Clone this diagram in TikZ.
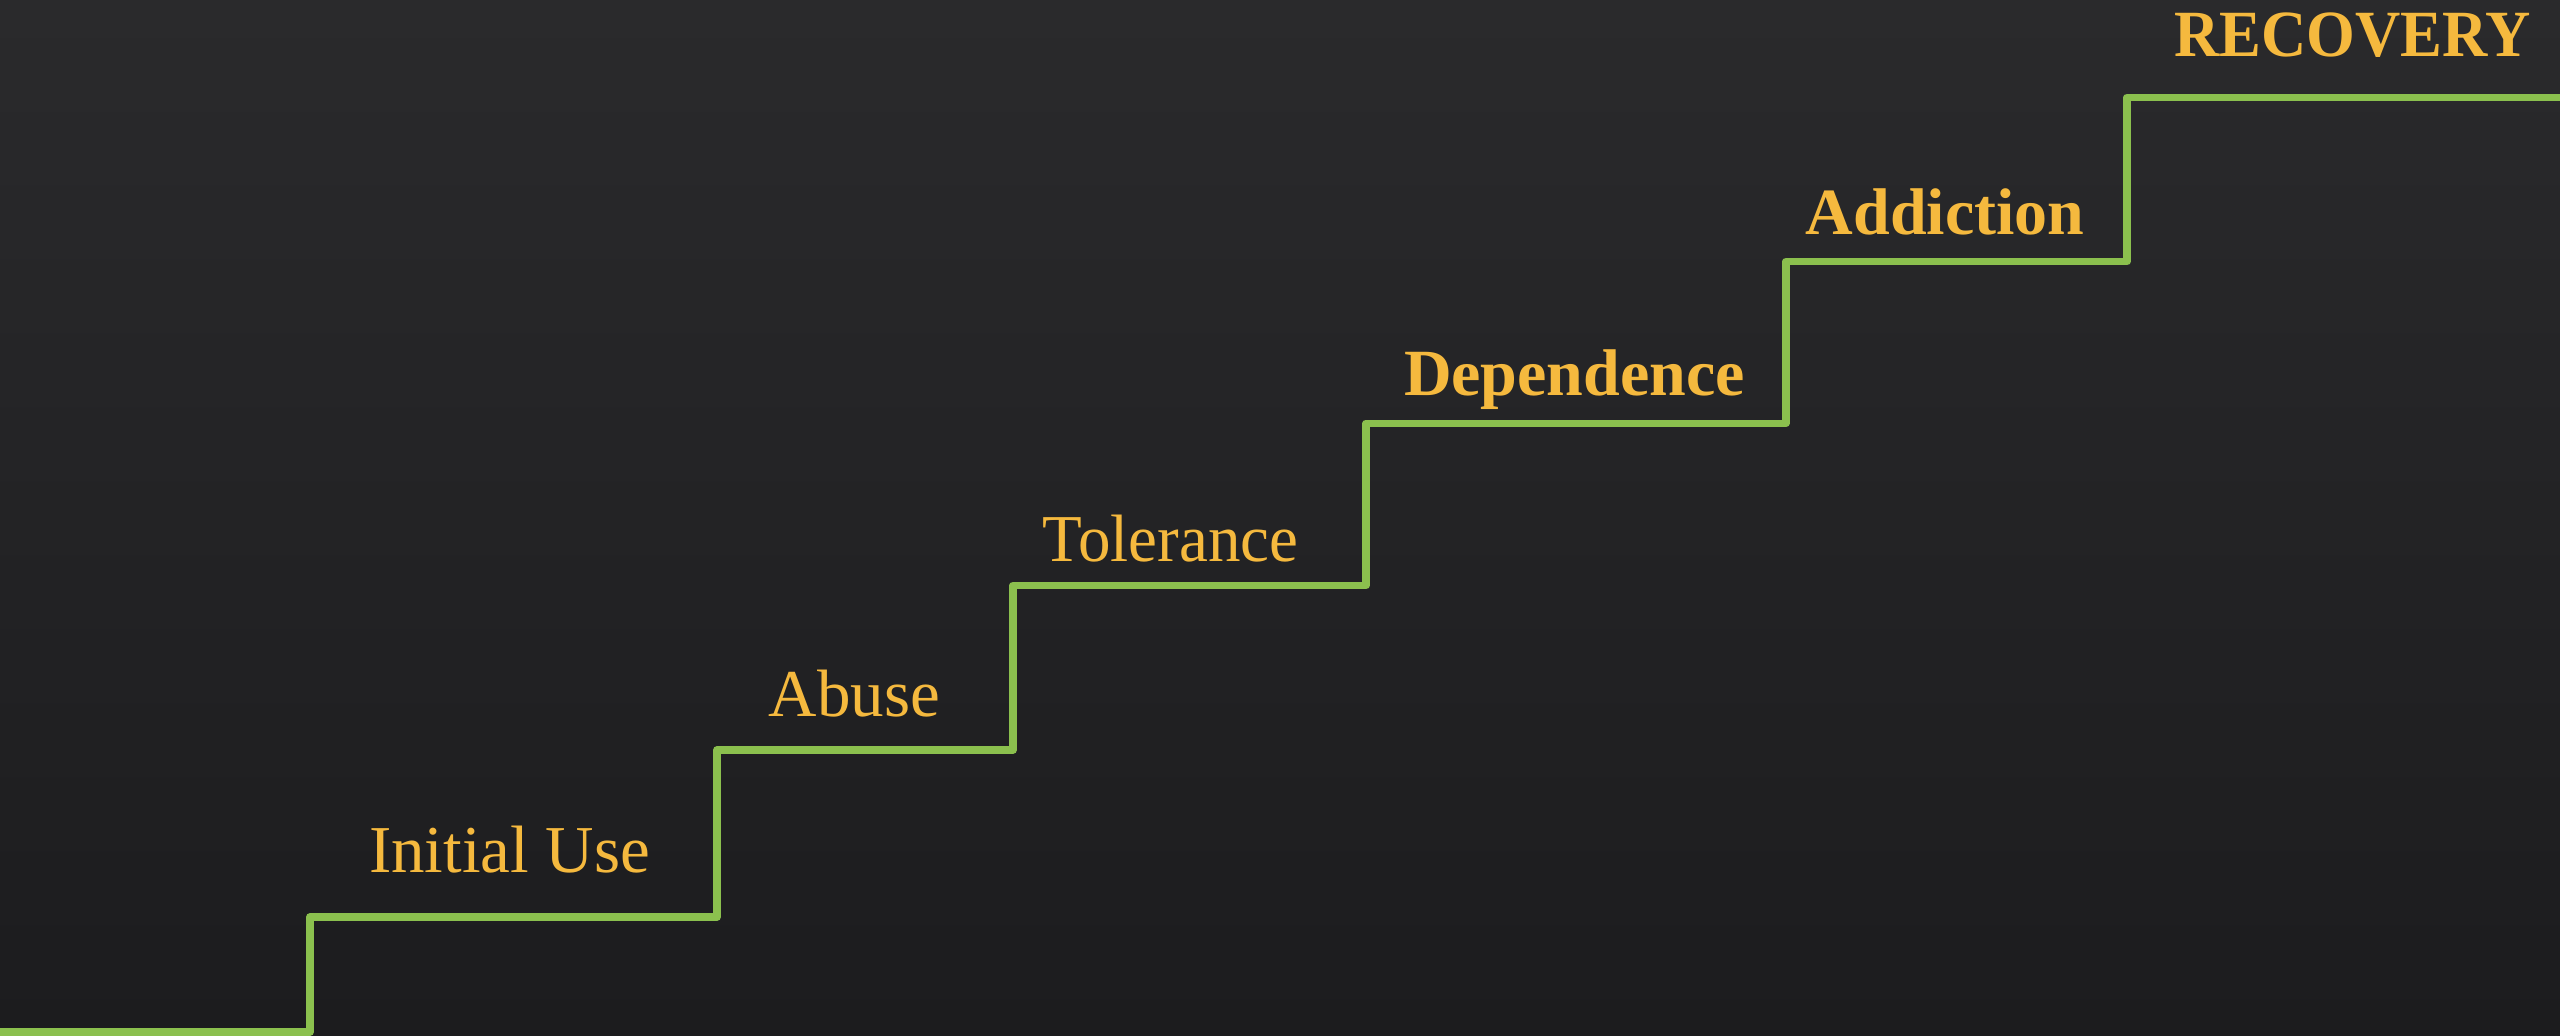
\documentclass[tikz,border=0pt]{standalone}
\usepackage{fontspec}
\setmainfont{Liberation Serif}
\usepackage{graphicx}
\definecolor{bgtop}{HTML}{2A2A2C}
\definecolor{bgbot}{HTML}{1C1C1E}
\definecolor{stairgreen}{HTML}{8BC04E}
\definecolor{labelgold}{HTML}{F5B93E}
\tikzset{
  stairline/.style={draw=stairgreen, line width=7.5pt, line join=round, line cap=butt},
  lbl/.style={text=labelgold, anchor=base, inner sep=0pt, font=\fontsize{67}{80}\selectfont},
  lblb/.style={lbl, font=\fontsize{66}{80}\selectfont\bfseries}
}
\begin{document}
\begin{tikzpicture}[x=1pt,y=-1pt]
\useasboundingbox (0,0) rectangle (2560,1036);
\shade[top color=bgtop, bottom color=bgbot] (0,0) rectangle (2560,1036);
% stair corners
\coordinate (s0) at (0,1032);
\coordinate (s1) at (310,1032);
\coordinate (s2) at (310,917);
\coordinate (s3) at (717,917);
\coordinate (s4) at (717,750);
\coordinate (s5) at (1013,750);
\coordinate (s6) at (1013,585.5);
\coordinate (s7) at (1366,585.5);
\coordinate (s8) at (1366,423.3);
\coordinate (s9) at (1786,423.3);
\coordinate (s10) at (1786,261.5);
\coordinate (s11) at (2127,261.5);
\coordinate (s12) at (2127,97.5);
\coordinate (s13) at (2560,97.5);
\draw[stairline] (s0) -- (s1) -- (s2) -- (s3) -- (s4) -- (s5) -- (s6) -- (s7) -- (s8) -- (s9) -- (s10) -- (s11) -- (s12) -- (s13);
% labels
\node[lbl] (initial) at (509.5,872) {Initial Use};
\node[lbl] (abuse) at (854.5,716) {Abuse};
\node[lbl] (tolerance) at (1170.5,561) {\scalebox{0.97}[1]{Tolerance}};
\node[lblb] (dependence) at (1574.5,395) {Dependence};
\node[lblb] (addiction) at (1945,234) {Addiction};
\node[lblb] (recovery) at (2352.5,56) {\scalebox{0.95}[1]{RECOVERY}};
\end{tikzpicture}
\end{document}
